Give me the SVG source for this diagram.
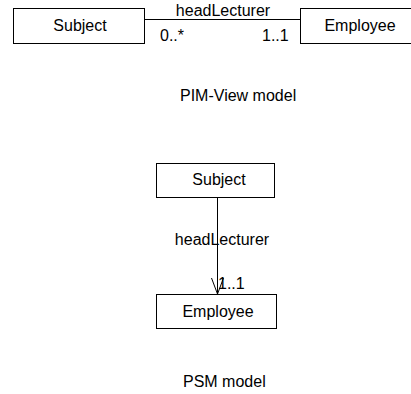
<svg xmlns="http://www.w3.org/2000/svg" width="411" height="394" viewBox="0 0 411 394">
  <style>
    .box { fill: #ffffff; stroke: #000000; stroke-width: 1; }
    .edge { fill: none; stroke: #000000; stroke-width: 1; }
    text { font-family: "Liberation Sans", Arial, sans-serif; font-size: 16px; fill: #000000; }
    .c { text-anchor: middle; }
  </style>
  <rect width="411" height="394" fill="#ffffff"/>

  <!-- PIM view: Subject -> Employee association -->
  <g id="pim-subject">
    <rect class="box" x="13.5" y="8.5" width="131" height="35"/>
    <text class="c" x="80" y="31">Subject</text>
  </g>
  <g id="pim-employee">
    <rect class="box" x="300.5" y="8.5" width="115" height="35"/>
    <text class="c" x="360" y="31">Employee</text>
  </g>

  <!-- PSM: Subject navigates to Employee -->
  <g id="psm-subject">
    <rect class="box" x="156.5" y="163.5" width="118" height="34"/>
    <text class="c" x="219" y="185">Subject</text>
  </g>
  <g id="psm-employee">
    <rect class="box" x="156.5" y="294.5" width="120" height="34"/>
    <text class="c" x="218" y="317">Employee</text>
  </g>

  <g id="connectors">
    <line class="edge" x1="144.5" y1="19.5" x2="300.5" y2="19.5"/>
    <text class="c" x="223" y="16">headLecturer</text>
    <text x="160" y="41">0..*</text>
    <text x="262" y="41">1..1</text>

    <line class="edge" x1="217.5" y1="197.5" x2="217.5" y2="294.5"/>
    <polyline class="edge" points="211.5,278 217.5,294 223.5,278"/>
    <text class="c" x="222" y="245">headLecturer</text>
    <text x="218" y="289">1..1</text>
  </g>

  <g id="captions">
    <text x="180" y="101">PIM-View model</text>
    <text x="183" y="387">PSM model</text>
  </g>
</svg>
